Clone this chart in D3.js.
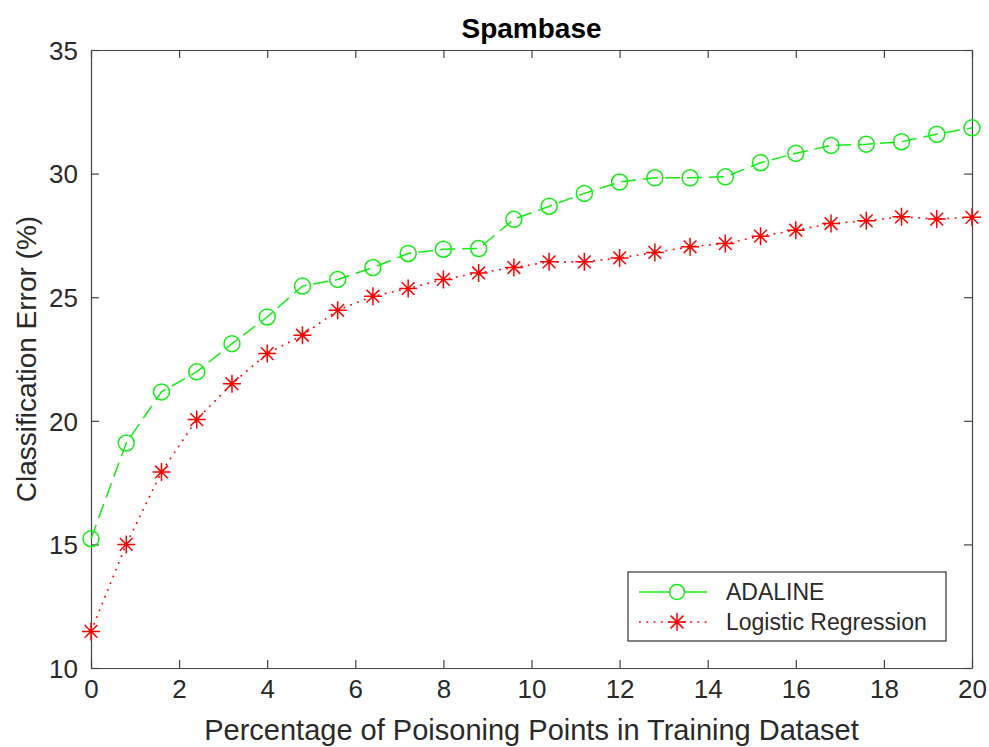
<!DOCTYPE html>
<html>
<head>
<meta charset="utf-8">
<script src="https://cdn.jsdelivr.net/npm/d3@7"></script>
<style>
  body { margin: 0; background: #fff; }
  svg { display: block; font-family: "Liberation Sans", Arial, sans-serif; }
</style>
</head>
<body>
<svg id="chart"></svg>
<script>
const width = 989;
const height = 747;

// poisoning percentage (x) and classification error (%) per model
const poisonPct = [0, 0.8, 1.6, 2.4, 3.2, 4.0, 4.8, 5.6, 6.4, 7.2, 8.0, 8.8, 9.6,
    10.4, 11.2, 12.0, 12.8, 13.6, 14.4, 15.2, 16.0, 16.8, 17.6, 18.4, 19.2, 20.0];
const adaline = [15.23, 19.1, 21.17, 21.98, 23.12, 24.2, 25.45, 25.72, 26.2, 26.77, 26.94, 26.97, 28.15,
    28.68, 29.2, 29.66, 29.83, 29.83, 29.87, 30.44, 30.82, 31.14, 31.19, 31.29, 31.59, 31.85];
const logistic = [11.48, 15.0, 17.93, 20.05, 21.5, 22.72, 23.46, 24.47, 25.04, 25.35, 25.72, 25.98, 26.2,
    26.43, 26.43, 26.59, 26.81, 27.04, 27.17, 27.47, 27.71, 27.98, 28.09, 28.25, 28.16, 28.23];
const xTicks = [0, 2, 4, 6, 8, 10, 12, 14, 16, 18, 20];
const yTicks = [10, 15, 20, 25, 30, 35];
const seriesNames = ["ADALINE", "Logistic Regression"];

const margin = { left: 91, right: 17, top: 50, bottom: 79 };
const axisColor = "#444";
const textColor = "#2a2a2a";
const green = "#14ec14";
const red = "#ff0000";

const svg = d3.select("#chart")
    .attr("width", width)
    .attr("height", height);

const x = d3.scaleLinear().domain([0, 20]).range([margin.left, width - margin.right]);
const y = d3.scaleLinear().domain([10, 35]).range([height - margin.bottom, margin.top]);

// 8-arm asterisk like matlab's '*'
const asterisk = {
    draw(ctx, size) {
        const r = Math.sqrt(size) / 2;
        const d = r * Math.SQRT1_2;
        ctx.moveTo(-r, 0); ctx.lineTo(r, 0);
        ctx.moveTo(0, -r); ctx.lineTo(0, r);
        ctx.moveTo(-d, -d); ctx.lineTo(d, d);
        ctx.moveTo(-d, d); ctx.lineTo(d, -d);
    }
};

// axis box with inward ticks on all sides
function tickAxis(axis, tr) {
    const g = svg.append("g").attr("transform", tr).call(axis);
    g.selectAll("path.domain").attr("stroke", axisColor).attr("stroke-width", 1.2);
    g.selectAll(".tick line").attr("stroke", axisColor).attr("stroke-width", 1.2);
    return g;
}
const innerH = height - margin.bottom - margin.top;

const xb = tickAxis(d3.axisBottom(x).tickValues(xTicks).tickSizeInner(-8).tickSizeOuter(0).tickPadding(14),
    `translate(0,${height - margin.bottom})`);
xb.selectAll("text").attr("fill", textColor).attr("font-family", null).attr("dy", "0.6em");
tickAxis(d3.axisTop(x).tickValues(xTicks).tickSizeInner(-8).tickSizeOuter(0).tickFormat(""),
    `translate(0,${margin.top})`);
const yl = tickAxis(d3.axisLeft(y).tickValues(yTicks).tickSizeInner(-8).tickSizeOuter(0).tickPadding(13),
    `translate(${margin.left},0)`);
yl.selectAll("text").attr("fill", textColor).attr("font-family", null).attr("dy", "0.36em");
tickAxis(d3.axisRight(y).tickValues(yTicks).tickSizeInner(-8).tickSizeOuter(0).tickFormat(""),
    `translate(${width - margin.right},0)`);
svg.selectAll(".tick text").attr("font-size", 26);

// lines
const line = d3.line().x((d, i) => x(poisonPct[i])).y(d => y(d));

svg.append("path")
    .datum(adaline)
    .attr("d", line)
    .attr("fill", "none")
    .attr("stroke", green)
    .attr("stroke-width", 1.5)
    .attr("stroke-dasharray", "15,7");

svg.append("path")
    .datum(logistic)
    .attr("d", line)
    .attr("fill", "none")
    .attr("stroke", red)
    .attr("stroke-width", 1.6)
    .attr("stroke-dasharray", "1.8,5.5");

// markers
svg.append("g").selectAll("circle")
    .data(adaline)
    .enter()
    .append("circle")
    .attr("cx", (d, i) => x(poisonPct[i]))
    .attr("cy", d => y(d))
    .attr("r", 8)
    .attr("fill", "none")
    .attr("stroke", green)
    .attr("stroke-width", 1.5);

const star = d3.symbol().type(asterisk).size(18 * 18);
svg.append("g").selectAll("path")
    .data(logistic)
    .enter()
    .append("path")
    .attr("transform", (d, i) => `translate(${x(poisonPct[i])},${y(d)})`)
    .attr("d", star)
    .attr("fill", "none")
    .attr("stroke", red)
    .attr("stroke-width", 1.5);

// title + axis labels
svg.append("text")
    .attr("x", (margin.left + width - margin.right) / 2)
    .attr("y", 38)
    .attr("text-anchor", "middle")
    .attr("font-size", 28)
    .attr("font-weight", "bold")
    .attr("fill", "#000")
    .text("Spambase");

svg.append("text")
    .attr("x", (margin.left + width - margin.right) / 2)
    .attr("y", 740)
    .attr("text-anchor", "middle")
    .attr("font-size", 29)
    .attr("fill", textColor)
    .text("Percentage of Poisoning Points in Training Dataset");

svg.append("text")
    .attr("transform", `translate(36,${margin.top + innerH / 2}) rotate(-90)`)
    .attr("text-anchor", "middle")
    .attr("font-size", 28)
    .attr("fill", textColor)
    .text("Classification Error (%)");

// legend
const legend = svg.append("g").attr("transform", "translate(628,572)");
legend.append("rect")
    .attr("width", 318)
    .attr("height", 69)
    .attr("fill", "#fff")
    .attr("stroke", "#333")
    .attr("stroke-width", 1.2);

const rows = [
    { name: seriesNames[0], color: green, dash: null, marker: "circle" },
    { name: seriesNames[1], color: red, dash: "1.8,5.5", marker: "star" }
];
rows.forEach((r, i) => {
    const ry = 20 + i * 30;
    legend.append("line")
        .attr("x1", 11).attr("x2", 79)
        .attr("y1", ry).attr("y2", ry)
        .attr("stroke", r.color)
        .attr("stroke-width", 1.5)
        .attr("stroke-dasharray", r.dash);
    if (r.marker === "circle") {
        legend.append("circle")
            .attr("cx", 49).attr("cy", ry).attr("r", 7.5)
            .attr("fill", "#fff").attr("stroke", r.color).attr("stroke-width", 1.5);
    } else {
        legend.append("path")
            .attr("transform", `translate(49,${ry})`)
            .attr("d", star)
            .attr("fill", "none").attr("stroke", r.color).attr("stroke-width", 1.5);
    }
    legend.append("text")
        .attr("x", 98)
        .attr("y", ry)
        .attr("dy", "0.36em")
        .attr("font-size", 23)
        .attr("fill", textColor)
        .text(r.name);
});
</script>
</body>
</html>
